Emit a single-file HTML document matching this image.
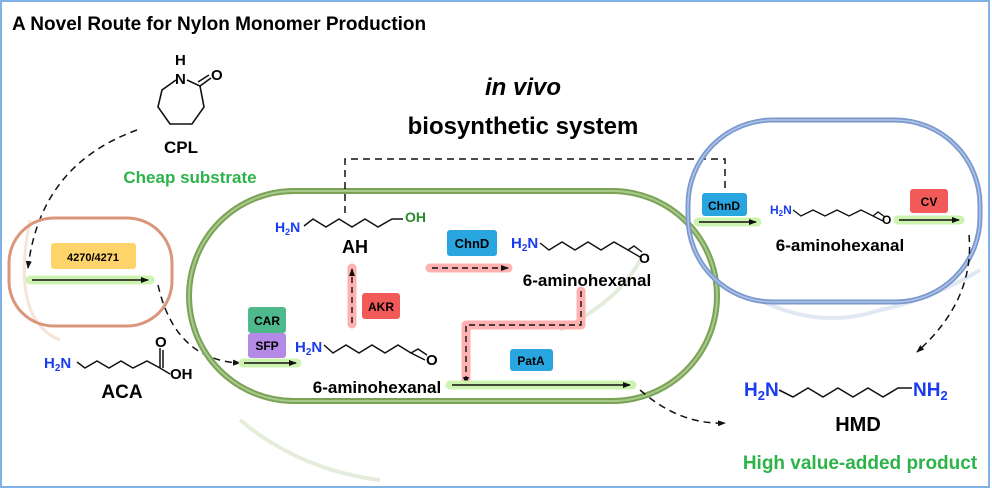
<!DOCTYPE html>
<html><head><meta charset="utf-8"><style>
html,body{margin:0;padding:0;background:#fff}
svg{display:block}
text{font-family:"Liberation Sans",Arial,sans-serif;font-weight:bold}
.gg{stroke:#cdf3b0;stroke-width:9;stroke-linecap:round;fill:none}
.gr{stroke:#ffb0b0;stroke-width:9;stroke-linecap:round;stroke-linejoin:round;fill:none}
</style></head><body>
<svg width="992" height="490" viewBox="0 0 992 490" xmlns="http://www.w3.org/2000/svg">
<defs>
<marker id="ah" markerWidth="8" markerHeight="8" refX="7" refY="4" orient="auto" markerUnits="userSpaceOnUse"><path d="M0,1 L8,4 L0,7 z" fill="#111"/></marker>
</defs>
<rect x="1" y="1" width="988" height="486" fill="#fff" stroke="#7fb3e6" stroke-width="2"/>
<path d="M240,420 Q300,470 380,480" stroke="#e4eddc" stroke-width="4" fill="none"/>
<path d="M560,330 Q620,300 640,260" stroke="#e4eddc" stroke-width="4" fill="none"/>
<path d="M760,300 Q820,330 880,310 Q930,300 980,270" stroke="#e1e8f4" stroke-width="4" fill="none"/>
<path d="M30,220 Q10,320 60,340" stroke="#f6e3da" stroke-width="3" fill="none"/>

<text x="12" y="30" font-size="19">A Novel Route for Nylon Monomer Production</text>

<g stroke="#111" stroke-width="1.6" fill="none">
<path d="M176,80 L162,90 L158,107 L170,124 L192,124 L204,107 L200,86 L187,80"/>
<path d="M200,86 L211,78 M198,82 L209,75"/>
</g>
<text x="175" y="84" font-size="15">N</text>
<text x="175" y="65" font-size="15">H</text>
<text x="211" y="80" font-size="15">O</text>
<text x="181" y="153" font-size="17" text-anchor="middle">CPL</text>
<text x="190" y="183" font-size="17" text-anchor="middle" fill="#2db34a">Cheap substrate</text>
<path d="M137,130 Q40,165 28,268" stroke="#111" stroke-width="1.5" stroke-dasharray="7,5" fill="none" marker-end="url(#ah)"/>

<rect x="9" y="218" width="163" height="108" rx="45" fill="none" stroke="#d9967a" stroke-width="3"/>
<rect x="51" y="243" width="85" height="26" rx="3" fill="#fdd36a"/>
<text x="93" y="261" font-size="11" text-anchor="middle">4270/4271</text>
<line x1="30" y1="280" x2="150" y2="280" class="gg"/>
<line x1="32" y1="280" x2="148" y2="280" stroke="#111" stroke-width="1.5" marker-end="url(#ah)"/>
<path d="M158,285 Q175,360 240,363" stroke="#111" stroke-width="1.5" stroke-dasharray="7,5" fill="none" marker-end="url(#ah)"/>

<path d="M77,362 L85,368 L97,361 L109,368 L121,361 L133,368 L147,361 L160,368 M160,368 L160,348 M163,368 L163,350 M160,368 L170,374" stroke="#111" stroke-width="1.5" fill="none"/>
<text x="44" y="368" font-size="15" fill="#1a3cf0">H<tspan font-size="10" dy="3">2</tspan><tspan dy="-3">N</tspan></text>
<text x="155" y="347" font-size="15">O</text>
<text x="170" y="379" font-size="15">OH</text>
<text x="122" y="398" font-size="19" text-anchor="middle">ACA</text>

<rect x="189" y="191" width="528" height="210" rx="105" fill="none" stroke="#7aa356" stroke-width="6"/>
<rect x="189" y="191" width="528" height="210" rx="105" fill="none" stroke="#a9c98d" stroke-width="2"/>
<path d="M345,213 L345,159 L725,159 L725,190" stroke="#111" stroke-width="1.5" stroke-dasharray="7,5" fill="none"/>

<text x="523" y="95" font-size="24" text-anchor="middle" font-style="italic">in vivo</text>
<text x="523" y="134" font-size="24" text-anchor="middle">biosynthetic system</text>

<path d="M304,226 L313,219 L326,227 L339,219 L352,227 L365,219 L378,227 L392,219 L403,219" stroke="#111" stroke-width="1.5" fill="none"/>
<text x="275" y="232" font-size="14" fill="#1a3cf0">H<tspan font-size="9" dy="3">2</tspan><tspan dy="-3">N</tspan></text>
<text x="405" y="222" font-size="14" fill="#2a8a2a">OH</text>
<text x="355" y="253" font-size="18" text-anchor="middle">AH</text>
<line x1="352" y1="324" x2="352" y2="268" class="gr"/>
<line x1="352" y1="323" x2="352" y2="269" stroke="#111" stroke-width="1.4" stroke-dasharray="6,4" marker-end="url(#ah)"/>
<rect x="362" y="293" width="38" height="26" rx="3" fill="#f25a5a"/>
<text x="381" y="311" font-size="12" text-anchor="middle">AKR</text>

<rect x="447" y="230" width="50" height="26" rx="3" fill="#29a6e0"/>
<text x="472" y="248" font-size="13" text-anchor="middle">ChnD</text>
<line x1="430" y1="268" x2="508" y2="268" class="gr"/>
<line x1="432" y1="268" x2="508" y2="268" stroke="#111" stroke-width="1.4" stroke-dasharray="6,4" marker-end="url(#ah)"/>
<path d="M540,243 L549,250 L562,242 L575,250 L588,242 L601,250 L614,242 L628,250 L634,246 L642,252 M628,250 L640,257" stroke="#111" stroke-width="1.4" fill="none"/>
<text x="511" y="248" font-size="15" fill="#1a3cf0">H<tspan font-size="10" dy="3">2</tspan><tspan dy="-3">N</tspan></text>
<text x="639" y="263" font-size="14">O</text>
<text x="587" y="286" font-size="17" text-anchor="middle">6-aminohexanal</text>

<path d="M581,291 L581,325 L466,325 L466,384" class="gr"/>
<path d="M581,291 L581,325 L466,325 L466,384" stroke="#111" stroke-width="1.4" stroke-dasharray="6,4" fill="none" marker-end="url(#ah)"/>
<rect x="510" y="349" width="43" height="22" rx="3" fill="#29a6e0"/>
<text x="531" y="365" font-size="12" text-anchor="middle">PatA</text>
<line x1="450" y1="385" x2="632" y2="385" class="gg"/>
<line x1="452" y1="385" x2="630" y2="385" stroke="#111" stroke-width="1.5" marker-end="url(#ah)"/>
<path d="M640,390 Q680,425 725,423" stroke="#111" stroke-width="1.5" stroke-dasharray="7,5" fill="none" marker-end="url(#ah)"/>

<rect x="248" y="307" width="38" height="26" rx="3" fill="#4eb98a"/>
<text x="267" y="325" font-size="12" text-anchor="middle">CAR</text>
<rect x="248" y="333" width="38" height="25" rx="3" fill="#b48ae6"/>
<text x="267" y="350" font-size="12" text-anchor="middle">SFP</text>
<line x1="243" y1="363" x2="297" y2="363" class="gg"/>
<line x1="244" y1="363" x2="296" y2="363" stroke="#111" stroke-width="1.5" marker-end="url(#ah)"/>
<path d="M324,345 L333,353 L346,345 L359,353 L372,345 L385,353 L398,345 L411,353 L418,349 L427,355 M411,353 L425,360" stroke="#111" stroke-width="1.5" fill="none"/>
<text x="295" y="352" font-size="15" fill="#1a3cf0">H<tspan font-size="10" dy="3">2</tspan><tspan dy="-3">N</tspan></text>
<text x="426" y="365" font-size="15">O</text>
<text x="377" y="393" font-size="17" text-anchor="middle">6-aminohexanal</text>

<rect x="688" y="120" width="292" height="182" rx="85" fill="none" stroke="#7a99cf" stroke-width="5"/>
<rect x="688" y="120" width="292" height="182" rx="85" fill="none" stroke="#b0c4e6" stroke-width="1.5"/>
<rect x="702" y="193" width="45" height="23" rx="3" fill="#29a6e0"/>
<text x="724" y="210" font-size="12" text-anchor="middle">ChnD</text>
<line x1="698" y1="222" x2="757" y2="222" class="gg"/>
<line x1="699" y1="222" x2="756" y2="222" stroke="#111" stroke-width="1.5" marker-end="url(#ah)"/>
<path d="M793,210 L801,216 L813,210 L825,216 L837,210 L849,216 L861,210 L873,216 L878,212 L885,217 M873,216 L883,221" stroke="#111" stroke-width="1.3" fill="none"/>
<text x="770" y="214" font-size="12" fill="#1a3cf0">H<tspan font-size="8" dy="2">2</tspan><tspan dy="-2">N</tspan></text>
<text x="882" y="224" font-size="12">O</text>
<text x="840" y="251" font-size="17" text-anchor="middle">6-aminohexanal</text>
<rect x="910" y="189" width="38" height="24" rx="3" fill="#f25a5a"/>
<text x="929" y="206" font-size="12" text-anchor="middle">CV</text>
<line x1="898" y1="220" x2="960" y2="220" class="gg"/>
<line x1="899" y1="220" x2="959" y2="220" stroke="#111" stroke-width="1.5" marker-end="url(#ah)"/>
<path d="M969,235 Q975,300 917,352" stroke="#111" stroke-width="1.5" stroke-dasharray="7,5" fill="none" marker-end="url(#ah)"/>

<path d="M779,390 L793,397 L808,388 L823,397 L838,388 L853,397 L868,388 L883,397 L898,388 L912,388" stroke="#111" stroke-width="1.6" fill="none"/>
<text x="744" y="396" font-size="19" fill="#1a3cf0">H<tspan font-size="13" dy="4">2</tspan><tspan dy="-4">N</tspan></text>
<text x="913" y="396" font-size="19" fill="#1a3cf0">NH<tspan font-size="13" dy="4">2</tspan></text>
<text x="858" y="431" font-size="20" text-anchor="middle">HMD</text>
<text x="860" y="469" font-size="19" text-anchor="middle" fill="#2db34a">High value-added product</text>
</svg>
</body></html>
